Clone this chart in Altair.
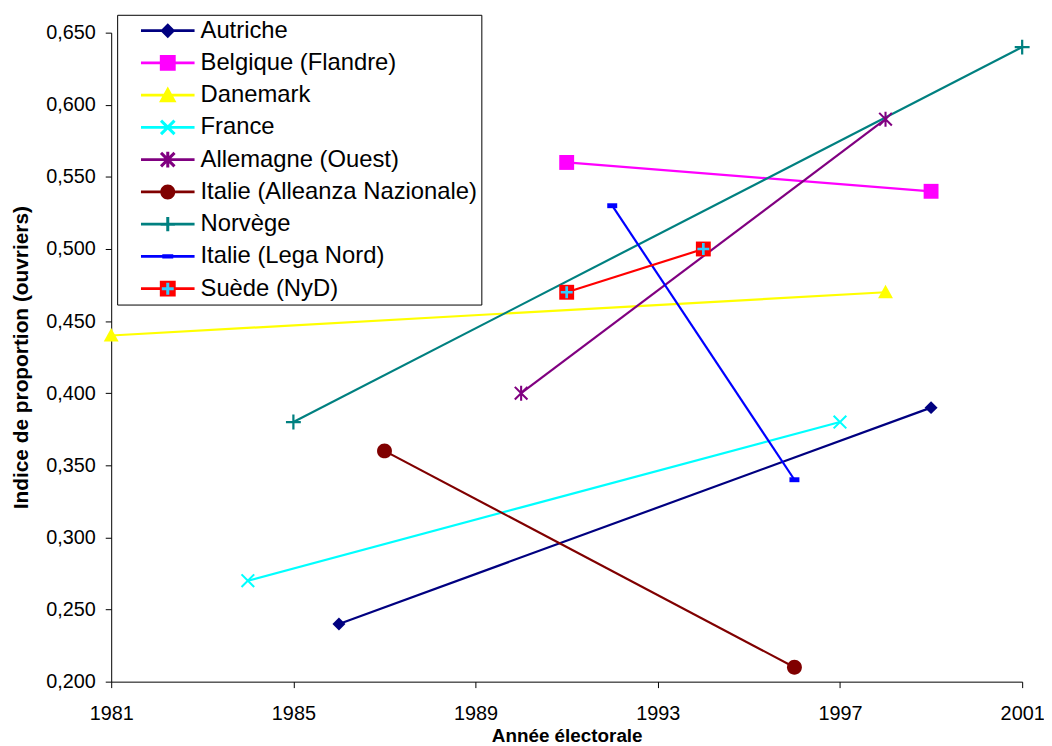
import math
import altair as alt
import pandas as pd

# ---------------- data ----------------
series = ["Autriche", "Belgique (Flandre)", "Danemark", "France", "Allemagne (Ouest)",
          "Italie (Alleanza Nazionale)", "Norvège", "Italie (Lega Nord)", "Suède (NyD)"]
years = [[1986, 1999], [1991, 1999], [1981, 1998], [1984, 1997], [1990, 1998],
         [1987, 1996], [1985, 2001], [1992, 1996], [1991, 1994]]
values = [[0.24, 0.39], [0.56, 0.54], [0.44, 0.47], [0.27, 0.38], [0.40, 0.59],
          [0.36, 0.21], [0.38, 0.64], [0.53, 0.34], [0.47, 0.50]]
x_ticks = [1981, 1985, 1989, 1993, 1997, 2001]
y_ticks = [0.20, 0.25, 0.30, 0.35, 0.40, 0.45, 0.50, 0.55, 0.60, 0.65]

# ---------------- styles ----------------
colors = ["#000080", "#FF00FF", "#FFFF00", "#00FFFF", "#800080",
          "#800000", "#008080", "#0000FF", "#FF0000"]
overlay_color = "#33CCFF"
FONT = "Arial"


def f(v):
    return f"{v:.3f}".rstrip("0").rstrip(".")


def rect(x0, y0, x1, y1):
    return f"M{f(x0)},{f(y0)}H{f(x1)}V{f(y1)}H{f(x0)}Z"


def diamond(r):
    return f"M0,{f(-r)}L{f(r)},0L0,{f(r)}L{f(-r)},0Z"


def triangle(r):
    return f"M0,{f(-r)}L{f(r)},{f(0.8*r)}L{f(-r)},{f(0.8*r)}Z"


def circle(r):
    return f"M{f(-r)},0A{f(r)},{f(r)} 0 1,1 {f(r)},0A{f(r)},{f(r)} 0 1,1 {f(-r)},0Z"


def xshape(r, t):
    d = t / math.sqrt(2)
    b1 = f"M{f(-r-d)},{f(-r+d)}L{f(-r+d)},{f(-r-d)}L{f(r+d)},{f(r-d)}L{f(r-d)},{f(r+d)}Z"
    b2 = f"M{f(r-d)},{f(-r-d)}L{f(r+d)},{f(-r+d)}L{f(-r+d)},{f(r+d)}L{f(-r-d)},{f(r-d)}Z"
    return b1 + b2


def plus(r, t):
    return rect(-r, -t, r, t) + rect(-t, -r, t, r)


def asterisk(r, t):
    return xshape(r * 0.85, t) + rect(-t, -r, t, r)


# plot markers (symbol box 15px)
plot_shapes = [
    diamond(0.87),
    rect(-1, -1, 1, 1),
    triangle(1.0),
    xshape(0.85, 0.14),
    asterisk(1.0, 0.14),
    circle(1.0),
    plus(1.0, 0.15),
    rect(-0.67, -0.33, 0.67, 0.33),
    rect(-1, -1, 1, 1),
]
overlay_plot_shape = plus(0.8, 0.18)

# legend symbols (symbol box 16px) = line + marker
LINE = rect(-3.375, -0.18, 3.375, 0.18)
legend_shapes = [
    LINE + diamond(0.94),
    LINE + rect(-1, -1, 1, 1),
    LINE + triangle(1.1),
    LINE + xshape(0.85, 0.19),
    LINE + asterisk(1.0, 0.19),
    LINE + circle(0.94),
    LINE + plus(0.9, 0.19),
    LINE + rect(-0.69, -0.27, 0.69, 0.27),
    LINE + rect(-1, -1, 1, 1),
]
overlay_legend_shape = plus(0.75, 0.19)

rows = []
for s, ys, vs in zip(series, years, values):
    for yr, v in zip(ys, vs):
        rows.append({"series": s, "year": yr, "value": v})
df = pd.DataFrame(rows)

x_enc = alt.X("year:Q",
              scale=alt.Scale(domain=[1981, 2001], nice=False, zero=False),
              axis=alt.Axis(values=x_ticks, format="d", title="Année électorale",
                            grid=False, tickSize=6, tickColor="black", domainColor="black",
                            labelFont=FONT, labelFontSize=20, labelColor="black",
                            labelPadding=16, titleFont=FONT, titleFontSize=19,
                            titleFontWeight="bold", titleColor="black", titlePadding=3,
                            labelFlush=False))
y_enc = alt.Y("value:Q",
              scale=alt.Scale(domain=[0.2, 0.65], nice=False, zero=False),
              axis=alt.Axis(values=y_ticks,
                            labelExpr="replace(format(datum.value, '.3f'), '.', ',')",
                            title="Indice de proportion (ouvriers)",
                            grid=False, tickSize=6, tickColor="black", domainColor="black",
                            labelFont=FONT, labelFontSize=20, labelColor="black",
                            labelPadding=10, titleFont=FONT, titleFontSize=21,
                            titleFontWeight="bold", titleColor="black", titlePadding=14))

color_scale = alt.Scale(domain=series, range=colors)

base = alt.Chart(df)

lines = base.mark_line(strokeWidth=2.2).encode(
    x=x_enc, y=y_enc,
    color=alt.Color("series:N", scale=color_scale, legend=None),
    detail="series:N",
)

points = base.mark_point(filled=True, opacity=1, size=225).encode(
    x=x_enc, y=y_enc,
    color=alt.Color("series:N", scale=color_scale, legend=None),
    shape=alt.Shape("series:N", scale=alt.Scale(domain=series, range=plot_shapes), legend=None),
)

overlay_points = base.transform_filter(
    alt.datum.series == series[-1]
).mark_point(filled=True, opacity=1, size=225).encode(
    x=x_enc, y=y_enc,
    color=alt.value(overlay_color),
    shape=alt.value(overlay_plot_shape),
)

legend_common = dict(
    orient="none", legendX=6, legendY=-18, title=None, direction="vertical",
    labelFont=FONT, labelFontSize=24, labelLimit=600,
    symbolSize=256, symbolOffset=35, labelOffset=21, padding=4, rowPadding=8.5,
    symbolStrokeWidth=0, symbolOpacity=1,
)

# main legend: framed white box, labels and line+marker symbols
main_legend = dict(labelColor="black", strokeColor="#000000", fillColor="white",
                   **legend_common)
# overlay legend: only the cyan plus on the Suède symbol (blank labels keep the rows aligned)
ghost_legend = dict(labelColor="transparent", strokeColor="transparent",
                    fillColor="transparent", labelExpr="'\u00a0'",
                    **legend_common)

legend_layer = base.transform_filter("false").mark_point(filled=True, size=256).encode(
    x=x_enc, y=y_enc,
    color=alt.Color("series:N", scale=alt.Scale(domain=series, range=colors),
                    legend=alt.Legend(**main_legend)),
    shape=alt.Shape("series:N", scale=alt.Scale(domain=series, range=legend_shapes),
                    legend=alt.Legend(**main_legend)),
)

overlay_colors = ["transparent"] * (len(series) - 1) + [overlay_color]
overlay_shapes = [overlay_legend_shape] * len(series)
overlay_legend = base.transform_filter("false").mark_point(filled=True, size=256).encode(
    x=x_enc, y=y_enc,
    color=alt.Color("series:N", scale=alt.Scale(domain=series, range=overlay_colors),
                    legend=alt.Legend(**ghost_legend)),
    shape=alt.Shape("series:N", scale=alt.Scale(domain=series, range=overlay_shapes),
                    legend=alt.Legend(**ghost_legend)),
)

chart = alt.layer(lines, points, overlay_points, legend_layer, overlay_legend).resolve_scale(
    color="independent", shape="independent"
).properties(
    width=918, height=654,
    autosize=alt.AutoSizeParams(type="none"),
    padding={"left": 104, "top": 22, "right": 22, "bottom": 62},
    background="white",
).configure_view(strokeWidth=0).configure_legend(strokeWidth=1)

chart.save("out.html", embed_options={"renderer": "svg", "actions": False})
